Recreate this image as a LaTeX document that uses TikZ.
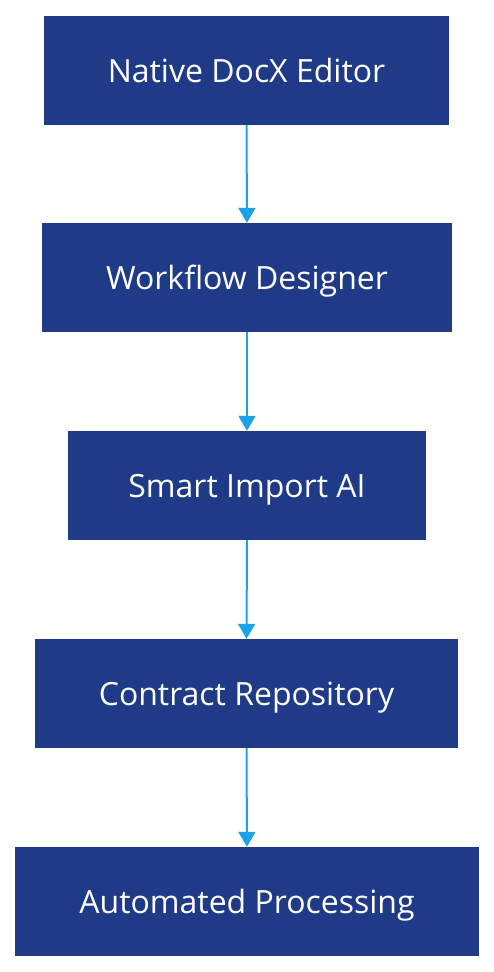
\documentclass[tikz,border=0pt]{standalone}
\usepackage{fontspec}
\setmainfont{Open Sans}
\usetikzlibrary{arrows.meta}
\definecolor{boxblue}{HTML}{1F3A87}
\definecolor{arrowblue}{HTML}{1AA3E6}
\begin{document}
\begin{tikzpicture}[x=1pt,y=-1pt,
  stepbox/.style={rectangle, fill=boxblue, text=white, minimum height=109pt, inner sep=0pt,
    text height=23pt, text depth=0pt, font=\fontsize{32}{38}\selectfont},
  conn/.style={draw=arrowblue, line width=2pt, -{Triangle[length=15pt,width=17pt]}}]
\useasboundingbox (0,0) rectangle (494,972);
\node[stepbox, minimum width=405pt] (a) at (246.5,70.5) {Native DocX Editor};
\node[stepbox, minimum width=410pt] (b) at (247,277.5) {Workflow Designer};
\node[stepbox, minimum width=358pt] (c) at (247,485.5) {Smart Import AI};
\node[stepbox, minimum width=423pt] (d) at (246.5,693.5) {Contract Repository};
\node[stepbox, minimum width=464pt] (e) at (247,901.5) {Automated Processing};
\draw[conn] (a.south) -- (b.north);
\draw[conn] (b.south) -- (c.north);
\draw[conn] (c.south) -- (d.north);
\draw[conn] (d.south) -- (e.north);
\end{tikzpicture}
\end{document}
